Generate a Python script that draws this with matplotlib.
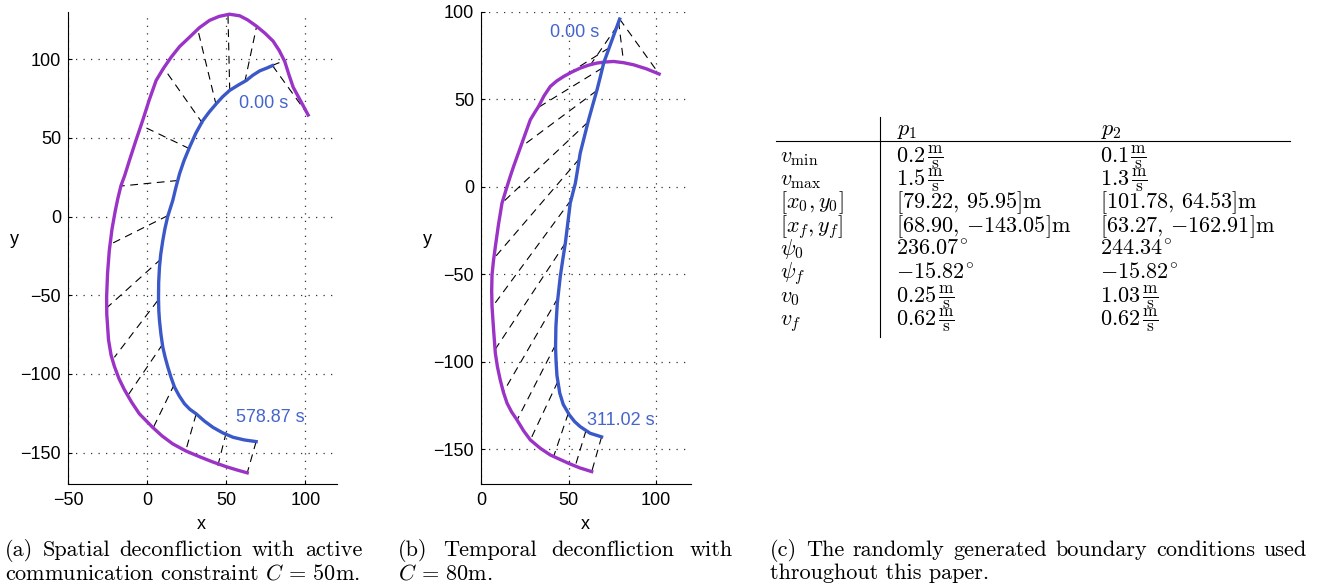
import matplotlib
matplotlib.use('Agg')
import matplotlib.pyplot as plt

plt.rcParams['font.family'] = ['Liberation Sans', 'DejaVu Sans']
plt.rcParams['mathtext.fontset'] = 'cm'

# (a) spatial deconfliction, C = 50 m
a_p1_x = [79.22, 75.5, 71.2, 66.8, 62.7, 57.5, 52.2, 47.8, 43.7, 39.3, 35.2, 30.8, 26.8, 23.3, 20.5,
          18.2, 16.2, 13.0, 11.2, 9.9, 8.6, 7.8, 7.3, 7.2, 7.4, 7.8, 8.7, 9.9, 11.4, 13.1, 15.1,
          17.3, 20.3, 23.6, 27.0, 31.0, 36.2, 41.6, 47.8, 54.3, 61.5, 68.90]
a_p1_y = [95.95, 94.3, 92.6, 89.8, 86.5, 83.5, 80.2, 76.2, 71.7, 66.5, 61.0, 53.0, 44.0, 35.5, 27.2,
          18.5, 10.2, 0.0, -8.0, -15.3, -24.0, -32.3, -42.0, -52.0, -60.0, -66.0, -74.5, -83.0, -89.5,
          -95.7, -102.2, -108.4, -114.0, -119.0, -122.5, -125.4, -130.0, -134.0, -137.5, -140.3,
          -142.0, -143.05]
a_p2_x = [101.78, 97.0, 92.3, 89.5, 87.0, 83.5, 79.6, 74.5, 69.1, 63.5, 58.5, 52.0, 45.5, 39.5, 33.0,
          26.8, 20.5, 15.2, 10.2, 5.7, 1.3, -2.8, -7.2, -11.2, -14.2, -16.5, -18.5, -20.1, -22.2,
          -23.9, -25.0, -25.6, -25.5, -24.4, -22.8, -20.7, -17.8, -14.4, -9.8, -4.9, 3.5, 9.5,
          16.2, 24.5, 33.2, 41.5, 50.0, 56.5, 63.27]
a_p2_y = [64.53, 73.5, 82.2, 90.5, 98.5, 105.5, 111.5, 116.5, 121.0, 125.0, 127.6, 128.6, 127.2,
          124.7, 120.0, 114.0, 108.0, 101.3, 94.0, 86.5, 74.0, 61.1, 48.0, 35.6, 26.0, 19.7, 11.5,
          3.8, -8.0, -21.6, -36.0, -51.3, -62.0, -78.3, -88.0, -95.2, -103.0, -110.0, -118.0,
          -125.4, -134.0, -139.5, -144.5, -149.0, -152.7, -156.0, -159.0, -161.0, -162.91]
# dashed links: p1(t_k) -> p2(t_k)
a_l1_x = [79.22, 71.2, 61.7, 52.2, 43.7, 35.2, 26.8, 19.4, 13.1, 8.9, 6.7, 9.9, 17.3, 31.0, 50.0, 68.90]
a_l1_y = [95.95, 92.9, 85.4, 80.2, 70.6, 59.0, 43.1, 22.9, 0.6, -26.9, -53.4, -81.0, -106.4, -125.5, -137.2, -143.05]
a_l2_x = [101.78, 87.0, 69.1, 51.1, 32.1, 10.6, -3.8, -16.5, -22.8, -25.6, -20.7, -12.3, 3.5, 24.7, 44.7, 63.27]
a_l2_y = [64.53, 99.2, 120.4, 128.5, 118.5, 94.2, 57.9, 19.4, -17.4, -58.1, -89.5, -113.9, -135.0, -147.8, -158.4, -162.91]

# (b) temporal deconfliction, C = 80 m
b_p1_x = [79.22, 74.5, 70.1, 68.2, 66.3, 63.9, 61.5, 59.1, 56.7, 55.3, 53.9, 51.0, 49.6, 48.2, 46.7,
          45.3, 43.6, 42.8, 42.6, 42.9, 43.4, 45.0, 47.0, 50.5, 53.5, 56.7, 62.4, 68.90]
b_p1_y = [95.95, 83.0, 70.8, 63.0, 55.5, 47.0, 38.4, 28.8, 19.3, 10.5, 2.0, -9.3, -20.7, -32.2, -41.8,
          -51.3, -66.6, -80.0, -92.0, -100.0, -108.0, -118.0, -124.5, -130.5, -134.3, -137.2, -141.0,
          -143.05]
b_p2_x = [101.78, 94.5, 87.2, 81.5, 75.8, 71.0, 66.3, 61.5, 56.7, 51.8, 47.2, 43.2, 39.6, 36.0, 32.9,
          30.5, 28.2, 25.8, 23.4, 21.0, 18.6, 16.7, 14.9, 12.0, 10.0, 8.2, 7.1, 6.3, 6.1, 6.3, 7.2,
          8.2, 9.4, 11.0, 12.8, 14.9, 17.5, 20.6, 24.3, 28.2, 33.8, 39.6, 50.1, 56.5, 63.27]
b_p2_y = [64.53, 67.5, 69.8, 71.0, 71.7, 71.4, 70.8, 69.6, 67.9, 65.6, 63.1, 60.5, 57.4, 52.0, 46.0,
          42.2, 38.4, 31.7, 25.0, 18.3, 11.6, 5.9, 0.2, -9.3, -21.5, -34.2, -42.5, -50.4, -59.5,
          -68.5, -81.9, -95.2, -103.0, -110.5, -117.5, -123.8, -128.8, -133.4, -139.5, -144.8,
          -149.5, -153.4, -158.2, -160.8, -162.91]
b_l1_x = [79.22, 78.6, 77.7, 73.2, 69.4, 66.1, 61.1, 56.2, 51.5, 48.2, 43.9, 42.6, 43.9, 49.9, 60.0, 68.90]
b_l1_y = [95.95, 94.6, 91.8, 79.5, 68.0, 55.0, 37.0, 16.0, -7.5, -32.2, -63.7, -90.4, -111.4, -129.5, -139.4, -143.05]
b_l2_x = [101.78, 81.5, 62.5, 47.2, 32.9, 22.5, 12.0, 7.5, 6.3, 8.1, 12.9, 20.6, 28.2, 41.5, 53.9, 63.27]
b_l2_y = [64.53, 71.2, 69.7, 63.1, 45.5, 22.5, -9.3, -40.8, -68.9, -93.0, -117.2, -133.4, -144.8, -154.3, -159.6, -162.91]

a_times = ['0.00 s', '578.87 s']
b_times = ['0.00 s', '311.02 s']

# (c) boundary conditions table
row_labels = [r'$v_{\min}$', r'$v_{\max}$', r'$[x_0, y_0]$', r'$[x_f, y_f]$',
              r'$\psi_0$', r'$\psi_f$', r'$v_0$', r'$v_f$']
p1_vals = ['0.2', '1.5', r'[79.22,\, 95.95]', r'[68.90,\, {-}143.05]', '236.07', '-15.82', '0.25', '0.62']
p2_vals = ['0.1', '1.3', r'[101.78,\, 64.53]', r'[63.27,\, {-}162.91]', '244.34', '-15.82', '1.03', '0.62']
units = ['m/s', 'm/s', 'm', 'm', 'deg', 'deg', 'm/s', 'm/s']

PURPLE = '#9a33c6'
BLUE = '#3a58c8'
LBLUE = '#4564cc'


def draw_panel(ax, p1x, p1y, p2x, p2y, l1x, l1y, l2x, l2y, xlim, ylim, xticks):
    for i in range(len(l1x)):
        ax.plot([l1x[i], l2x[i]], [l1y[i], l2y[i]], color='k', lw=0.8,
                ls=(0, (7, 5)), zorder=2)
    ax.plot(p2x, p2y, color=PURPLE, lw=2.4, zorder=3)
    ax.plot(p1x, p1y, color=BLUE, lw=2.4, zorder=4)
    ax.set_xlim(xlim)
    ax.set_ylim(ylim)
    ax.set_xticks(xticks)
    ax.set_yticks([-150, -100, -50, 0, 50, 100])
    ax.grid(True, color='0.2', lw=0.9, ls=(0, (1, 5)))
    ax.set_axisbelow(True)
    for s in ['top', 'right']:
        ax.spines[s].set_visible(False)
    for s in ['left', 'bottom']:
        ax.spines[s].set_linewidth(0.8)
    ax.tick_params(direction='in', length=3, width=0.8, labelsize=13)
    ax.tick_params(axis='x', pad=6)
    ax.tick_params(axis='y', pad=5)


def justified(tax, words, x0, x1, y, **kw):
    r = fig.canvas.get_renderer()
    texts = [tax.text(0, y, w, **kw) for w in words]
    widths = [t.get_window_extent(r).width for t in texts]
    gap = (x1 - x0 - sum(widths)) / (len(words) - 1)
    x = x0
    for t, w in zip(texts, widths):
        t.set_x(x)
        x += w + gap


def table_cell(tax, x, y, val, unit, size):
    if unit == 'm':
        tax.text(x, y, '$' + val + r'\mathrm{m}$', fontsize=size, va='baseline')
    elif unit == 'deg':
        tax.text(x, y, '$' + val + r'^{\!\circ}$', fontsize=size, va='baseline')
    else:
        t = tax.text(x, y, '$' + val + '$', fontsize=size, va='baseline')
        w = t.get_window_extent(fig.canvas.get_renderer()).width
        tax.text(x + w + 1.5, y + 0.5, r'$\frac{\mathrm{m}}{\mathrm{s}}$',
                 fontsize=size * 1.12, va='baseline')


fig = plt.figure(figsize=(13.22, 5.88), dpi=100)
W, H = 1322, 588

ax1 = fig.add_axes([68 / W, (H - 484) / H, 269 / W, 472 / H])
draw_panel(ax1, a_p1_x, a_p1_y, a_p2_x, a_p2_y, a_l1_x, a_l1_y, a_l2_x, a_l2_y,
           (-50, 120), (-170, 130), [-50, 0, 50, 100])
ax1.text(58, 72, a_times[0], color=LBLUE, fontsize=13, va='center')
ax1.text(56, -128, a_times[1], color=LBLUE, fontsize=13, va='center')
ax1.set_xlabel('x', fontsize=13)
ax1.set_ylabel('y', fontsize=13, rotation=0, va='center', ha='center')
ax1.xaxis.set_label_coords(0.494, -0.068)
ax1.yaxis.set_label_coords(-0.2, 0.517)

ax2 = fig.add_axes([481 / W, (H - 484) / H, 210 / W, 472 / H])
draw_panel(ax2, b_p1_x, b_p1_y, b_p2_x, b_p2_y, b_l1_x, b_l1_y, b_l2_x, b_l2_y,
           (0, 120), (-170, 100), [0, 50, 100])
ax2.text(39.6, 88, b_times[0], color=LBLUE, fontsize=13, va='center')
ax2.text(60.6, -133.4, b_times[1], color=LBLUE, fontsize=13, va='center')
ax2.set_xlabel('x', fontsize=13)
ax2.set_ylabel('y', fontsize=13, rotation=0, va='center', ha='center')
ax2.xaxis.set_label_coords(0.495, -0.068)
ax2.yaxis.set_label_coords(-0.257, 0.517)

# overlay in pixel coordinates for the table and captions
tax = fig.add_axes([0, 0, 1, 1])
tax.set_xlim(0, W)
tax.set_ylim(H, 0)
tax.axis('off')

TS = 16
tax.plot([880, 880], [117, 337], color='k', lw=0.8)
tax.plot([776, 1290], [140.5, 140.5], color='k', lw=0.8)
tax.text(897, 135, r'$p_1$', fontsize=TS, va='baseline')
tax.text(1101, 135, r'$p_2$', fontsize=TS, va='baseline')
for i in range(len(row_labels)):
    yb = 162 + 23.3 * i
    tax.text(780, yb, row_labels[i], fontsize=TS, va='baseline')
    table_cell(tax, 896, yb, p1_vals[i], units[i], TS)
    table_cell(tax, 1100, yb, p2_vals[i], units[i], TS)

CF = dict(fontsize=TS, family='cmr10', va='baseline')
justified(tax, ['(a)', 'Spatial', 'deconfliction', 'with', 'active'], 5, 362, 556, **CF)
tax.text(5, 579, r'communication constraint $C\,=\,50$m.', **CF)
justified(tax, ['(b)', 'Temporal', 'deconfliction', 'with'], 398, 733, 556, **CF)
tax.text(398, 579, r'$C\,=\,80$m.', **CF)
justified(tax, ['(c)', 'The', 'randomly', 'generated', 'boundary', 'conditions', 'used'],
          770, 1307, 556, **CF)
tax.text(770, 579, 'throughout this paper.', **CF)

fig.savefig('out.png', dpi=100)
